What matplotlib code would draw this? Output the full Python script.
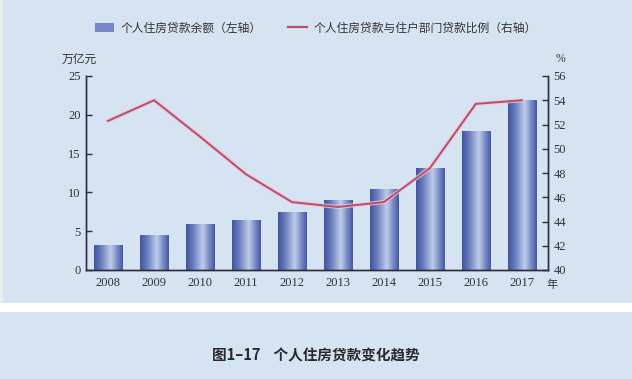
import numpy as np
import matplotlib
matplotlib.use("Agg")
import matplotlib.pyplot as plt
from matplotlib.colors import LinearSegmentedColormap
from matplotlib.patches import Patch, Rectangle
from matplotlib.lines import Line2D

years = ["2008", "2009", "2010", "2011", "2012", "2013", "2014", "2015", "2016", "2017"]
balance = [3.1, 4.5, 5.8, 6.4, 7.4, 8.9, 10.4, 13.1, 17.9, 21.9]
ratio = [52.3, 54.0, 51.0, 47.9, 45.6, 45.2, 45.6, 48.4, 53.7, 54.0]
left_ticks = [0, 5, 10, 15, 20, 25]
right_ticks = [40, 42, 44, 46, 48, 50, 52, 54, 56]

CJK = ["Noto Sans CJK SC", "DejaVu Sans"]
SERIF = ["Liberation Serif", "Noto Sans CJK SC"]
bg = "#d5e3f2"
line_c = "#b84d6c"
spine_c = "#2b2f3a"
text_c = "#333333"

fig = plt.figure(figsize=(6.32, 3.79), dpi=100)
fig.patch.set_facecolor(bg)
# white separator band between chart panel and caption panel
fig.add_artist(Rectangle((0, 1 - 312/379), 1, 9/379, transform=fig.transFigure,
                         facecolor="white", edgecolor="none", zorder=0))
fig.add_artist(Rectangle((0, 1 - 303/379), 3/632, 303/379, transform=fig.transFigure,
                         facecolor="#e6eeee", edgecolor="none", zorder=0))

ax = fig.add_axes([86/632, 1 - 270/379, (548-86)/632, (270-76)/379])
ax.set_facecolor("none")

cmap = LinearSegmentedColormap.from_list("bar", [
    (0.0, "#42559e"), (0.25, "#6a7ebf"), (0.58, "#bfcdea"), (0.8, "#7a8dc9"), (1.0, "#4659a3")])
grad = np.linspace(0, 1, 64).reshape(1, -1)
w = 0.61
x = np.arange(len(years))
for xi, h in zip(x, balance):
    ax.imshow(grad, cmap=cmap, extent=(xi - w/2, xi + w/2, 0, h), aspect="auto",
              origin="lower", zorder=2, interpolation="bilinear")
ax.set_xlim(-0.48, 9.57)
ax.set_ylim(0, 25)
ax.set_yticks(left_ticks)
ax.set_xticks(x)
ax.set_xticklabels(years)

ax2 = ax.twinx()
ax2.plot(x, ratio, color="#efc6d2", lw=3.0, solid_joinstyle="miter", zorder=3, alpha=0.8)
ax2.plot(x, ratio, color=line_c, lw=1.4, solid_joinstyle="miter", zorder=4)
ax2.set_ylim(40, 56)
ax2.set_yticks(right_ticks)
ax2.set_xlim(-0.48, 9.57)

for a in (ax, ax2):
    for s in a.spines.values():
        s.set_color(spine_c)
        s.set_linewidth(1.0)
    a.spines["top"].set_visible(False)
    a.tick_params(axis="y", direction="in", length=4, width=1, color=spine_c,
                  labelsize=9, labelcolor=text_c, pad=4)
    for lab in a.get_yticklabels():
        lab.set_family(SERIF)
ax.tick_params(axis="x", length=0, labelsize=9, labelcolor=text_c, pad=5)
for lab in ax.get_xticklabels():
    lab.set_family(SERIF)

fig.text(79/632, 1 - 59/379, "万亿元", family=CJK, fontsize=8.5, color=text_c,
         ha="center", va="center")
fig.text(560/632, 1 - 59/379, "%", family=SERIF, fontsize=8.5, color=text_c,
         ha="center", va="center")
fig.text(552/632, 1 - 285/379, "年", family=CJK, fontsize=8, color=text_c,
         ha="center", va="center")

handles = [Patch(facecolor="#7587c4", edgecolor="none"),
           Line2D([0], [0], color=line_c, lw=1.6)]
labels = ["个人住房贷款余额（左轴）", "个人住房贷款与住户部门贷款比例（右轴）"]
fig.legend(handles, labels, loc="center", bbox_to_anchor=(0.5, 1 - 28/379), ncol=2,
           frameon=False, prop={"family": CJK, "size": 8.5}, labelcolor=text_c,
           handlelength=1.6, handleheight=0.9, columnspacing=2.2, handletextpad=0.6)

fig.text(0.5, 1 - 355/379, "图1–17    个人住房贷款变化趋势", family=CJK, fontsize=10.5,
         fontweight="bold", color="#2a2a2a", ha="center", va="center")

fig.savefig("out.png", dpi=100, facecolor=bg)
